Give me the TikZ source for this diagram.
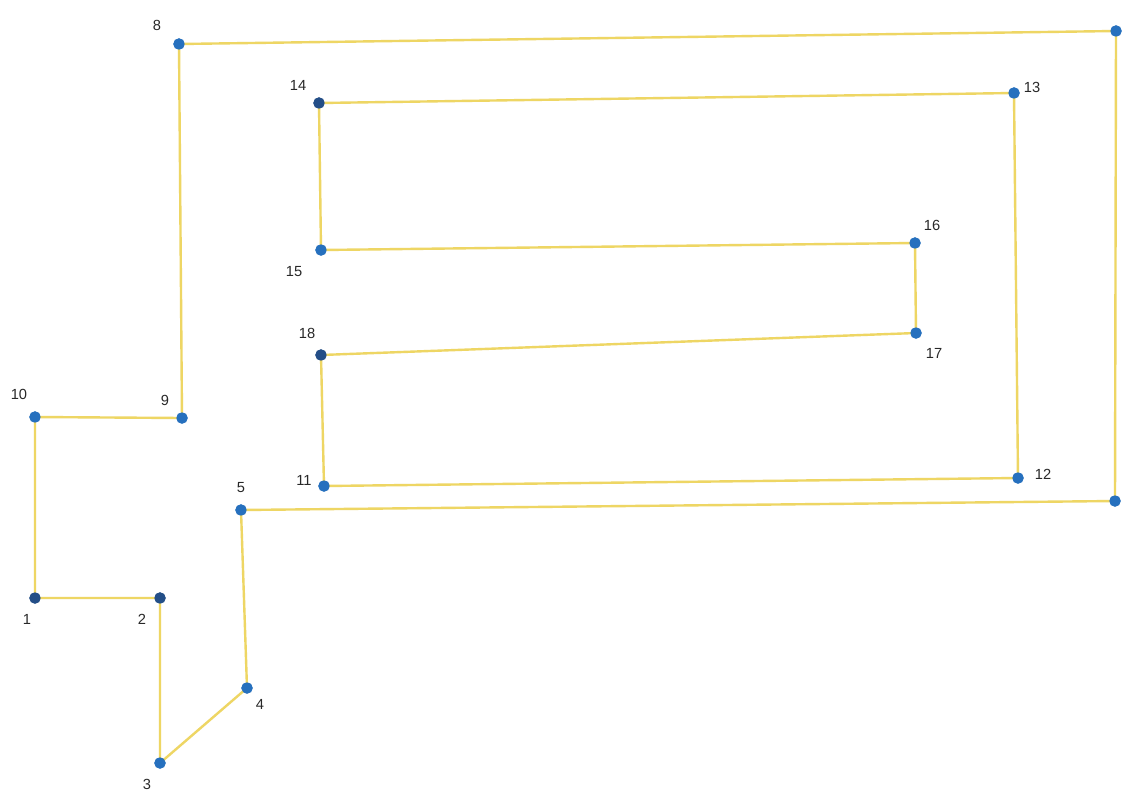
\documentclass[tikz,border=0pt]{standalone}
\usepackage{fontspec}
\setmainfont{Liberation Sans}
\begin{document}
\begin{tikzpicture}[x=0.75pt,y=-0.75pt,
  edge/.style={draw=lineyellow,line width=1.8pt},
  pt/.style={circle,fill=dotblue,inner sep=0pt,minimum size=8.5pt},
  ptdark/.style={circle,fill=dotdark,inner sep=0pt,minimum size=8.5pt},
  lbl/.style={font=\fontsize{11}{13}\selectfont,text=labelgray,inner sep=0pt}]
\definecolor{lineyellow}{RGB}{238,214,100}
\definecolor{dotblue}{RGB}{38,112,190}
\definecolor{dotdark}{RGB}{35,78,135}
\definecolor{labelgray}{RGB}{40,40,40}
\useasboundingbox (0,0) rectangle (1129,790);
\fill[white] (0,0) rectangle (1129,790);
% nodes
\node[ptdark] (p1) at (35,598) {};
\node[ptdark] (p2) at (160,598) {};
\node[pt] (p3) at (160,763) {};
\node[pt] (p4) at (247,688) {};
\node[pt] (p5) at (241,510) {};
\node[pt] (p6) at (1115,501) {};
\node[pt] (p7) at (1116,31) {};
\node[pt] (p8) at (179,44) {};
\node[pt] (p9) at (182,418) {};
\node[pt] (p10) at (35,417) {};
\node[pt] (p11) at (324,486) {};
\node[pt] (p12) at (1018,478) {};
\node[pt] (p13) at (1014,93) {};
\node[ptdark] (p14) at (319,103) {};
\node[pt] (p15) at (321,250) {};
\node[pt] (p16) at (915,243) {};
\node[pt] (p17) at (916,333) {};
\node[ptdark] (p18) at (321,355) {};
% edges
\begin{scope}[on background layer/.style={}]
\end{scope}
\path[edge] (p1.center) -- (p2.center) -- (p3.center) -- (p4.center) -- (p5.center) -- (p6.center) -- (p7.center) -- (p8.center) -- (p9.center) -- (p10.center) -- (p1.center);
\path[edge] (p11.center) -- (p12.center) -- (p13.center) -- (p14.center) -- (p15.center) -- (p16.center) -- (p17.center) -- (p18.center) -- (p11.center);
% redraw dots on top
\foreach \n/\s in {p1/ptdark,p2/ptdark,p3/pt,p4/pt,p5/pt,p6/pt,p7/pt,p8/pt,p9/pt,p10/pt,p11/pt,p12/pt,p13/pt,p14/ptdark,p15/pt,p16/pt,p17/pt,p18/ptdark}
  \node[\s] at (\n.center) {};
% labels
\node[lbl] (l1) at (27,619) {1};
\node[lbl] (l2) at (142,619) {2};
\node[lbl] (l3) at (147,784) {3};
\node[lbl] (l4) at (260,704) {4};
\node[lbl] (l5) at (241,488) {5};
\node[lbl] (l6) at (1133,518) {6};
\node[lbl] (l7) at (1133,10) {7};
\node[lbl] (l8) at (157,25) {8};
\node[lbl] (l9) at (165,400) {9};
\node[lbl] (l10) at (19,394) {10};
\node[lbl] (l11) at (304,480) {11};
\node[lbl] (l12) at (1043,474) {12};
\node[lbl] (l13) at (1032,87) {13};
\node[lbl] (l14) at (298,85) {14};
\node[lbl] (l15) at (294,272) {15};
\node[lbl] (l16) at (932,225) {16};
\node[lbl] (l17) at (934,353) {17};
\node[lbl] (l18) at (307,333) {18};
\end{tikzpicture}
\end{document}
